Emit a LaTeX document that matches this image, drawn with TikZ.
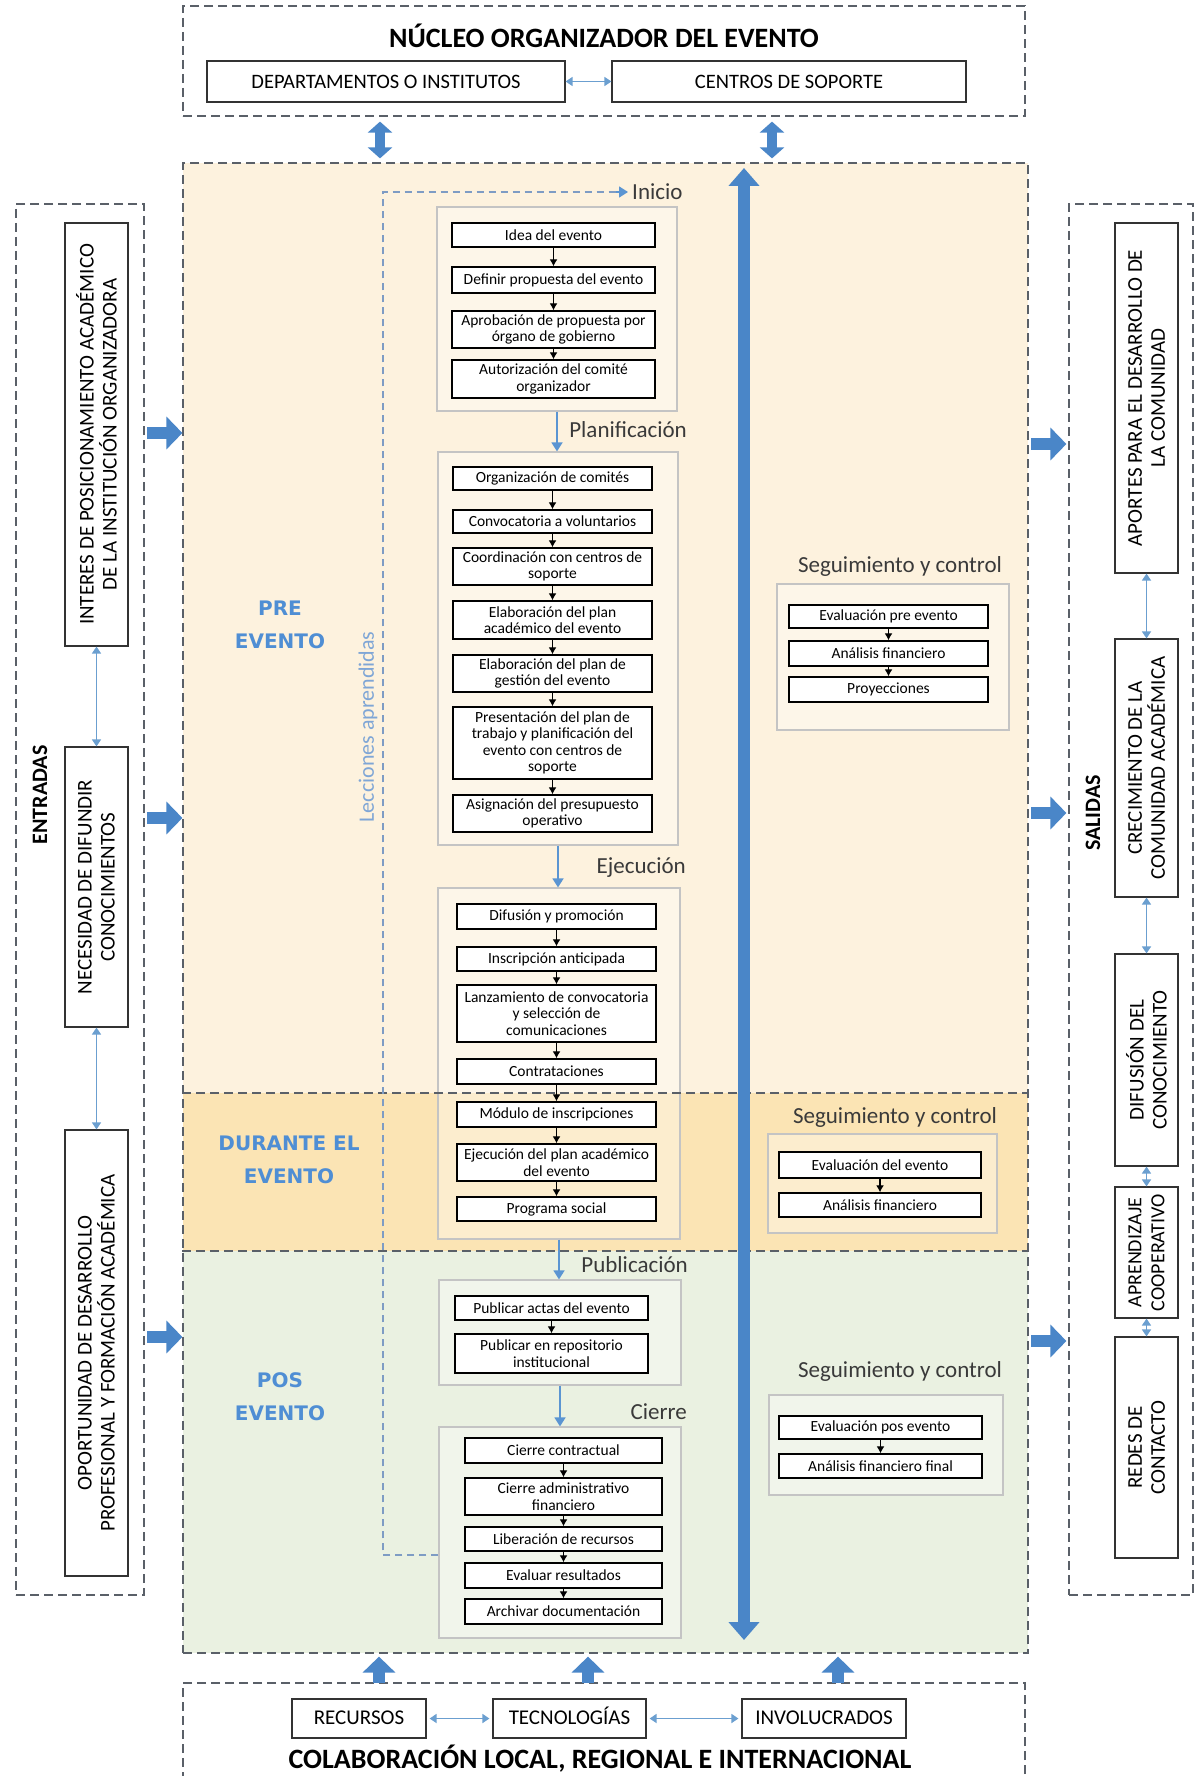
\documentclass[tikz,border=0pt]{standalone}
\usepackage{fontspec}
\setmainfont{Carlito}
\newfontfamily\phasefont{DejaVu Sans}
\usetikzlibrary{arrows.meta,calc,fit}

\definecolor{bgpre}{HTML}{FDF2DE}
\definecolor{bgdur}{HTML}{FBE4B4}
\definecolor{bgpos}{HTML}{EAF1E1}
\definecolor{framegray}{HTML}{5A6068}
\definecolor{groupgray}{HTML}{C4C4C4}
\definecolor{bigblue}{HTML}{4A86C8}
\definecolor{flowblue}{HTML}{5B95D2}
\definecolor{thinblue}{HTML}{6B9FD0}
\definecolor{phaseblue}{HTML}{4F8ED4}
\definecolor{lessonline}{HTML}{7E9CC4}
\definecolor{lessontext}{HTML}{7FA6D6}
\definecolor{labelgray}{HTML}{3A3A3A}

\newcommand\itemfont{\fontsize{15.5}{16.5}\selectfont}
\newcommand\stagefont{\fontsize{23}{27}\selectfont}
\newcommand\sidefont{\fontsize{21}{23}\selectfont}
\newcommand\phasetxt{\phasefont\bfseries\fontsize{20}{33}\selectfont}

% box from its corners: style, name, x1, y1, x2, y2, text
\newcommand\cornerbox[7]{%
  \pgfmathsetmacro\bw{#5-#3}\pgfmathsetmacro\bh{#6-#4}%
  \pgfmathsetmacro\bx{(#3+#5)/2}\pgfmathsetmacro\by{(#4+#6)/2}%
  \node[#1, minimum width=\bw pt, minimum height=\bh pt] (#2) at (\bx,\by) {#7};}

\begin{document}
\begin{tikzpicture}[x=1pt,y=-1pt,
  frame/.style={draw=framegray, line width=1.2pt, dash pattern=on 9pt off 5pt, inner sep=0pt},
  groupbox/.style={draw=groupgray, line width=1.2pt, fill=white, fill opacity=0.35, inner sep=0pt},
  item/.style={draw=black, line width=1.4pt, fill=white, inner sep=0pt, align=center, font=\itemfont},
  plainbox/.style={draw=black!80, line width=1.2pt, fill=white, inner sep=0pt, align=center},
  capsbox/.style={plainbox, font=\fontsize{21}{24}\selectfont, text height=14pt, text depth=2pt},
  stepline/.style={draw=black, line width=1.2pt, -{Latex[length=7pt,width=8pt]}},
  flowline/.style={draw=flowblue, line width=1.6pt, -{Triangle[length=9pt,width=11pt]}},
  thinboth/.style={draw=thinblue, line width=1.6pt, {Triangle[length=7pt,width=9pt]}-{Triangle[length=7pt,width=9pt]}},
  bigarr/.style={draw=bigblue, line width=12pt, -{Triangle[length=16pt,width=32pt]}},
  bigboth/.style={draw=bigblue, line width=10pt, {Triangle[length=11pt,width=24pt]}-{Triangle[length=11pt,width=24pt]}},
  sidebox/.style={draw=black!80, line width=1.2pt, fill=white, rotate=90, align=center, font=\sidefont, inner sep=0pt, minimum height=63pt},
  stagelabel/.style={font=\stagefont, text=labelgray, inner sep=0pt},
  phaselabel/.style={font=\phasetxt, text=phaseblue, align=center, inner sep=0pt},
  lesson/.style={draw=lessonline, line width=1.1pt, dash pattern=on 7pt off 5pt},
]
\useasboundingbox (0,0) rectangle (1197,1776);
\clip (0,0) rectangle (1197,1776);
\fill[white] (0,0) rectangle (1197,1776);

% ---------- phase backgrounds ----------
\fill[bgpre] (183,163) rectangle (1028,1093);
\fill[bgdur] (183,1093) rectangle (1028,1251);
\fill[bgpos] (183,1251) rectangle (1028,1653);

% ---------- outer frames ----------
\node[frame, fit={(183,6)(1025,116)}] (nucleo) {};
\node[frame, fit={(183,163)(1028,1653)}] (main) {};
\node[frame, fit={(16,204)(144,1595)}] (entr) {};
\node[frame, fit={(1069,204)(1193,1595)}] (sal) {};
\node[frame, fit={(183,1683)(1025,1800)}] (colab) {};

% ---------- organising core ----------
\node[font=\bfseries\fontsize{28}{32}\selectfont, inner sep=0pt] (tNuc) at (604,36) {NÚCLEO ORGANIZADOR DEL EVENTO};
\cornerbox{plainbox, font=\fontsize{20.5}{24}\selectfont}{dep}{207}{61}{565}{102}{DEPARTAMENTOS O INSTITUTOS}
\cornerbox{plainbox, font=\fontsize{20.5}{24}\selectfont}{cen}{612}{61}{966}{102}{CENTROS DE SOPORTE}
\draw[thinboth] (dep.east) -- (cen.west);
\draw[bigboth] ($(nucleo.south -| 380,0)+(0,5)$) -- ($(main.north -| 380,0)+(0,-4)$);
\draw[bigboth] ($(nucleo.south -| 772,0)+(0,5)$) -- ($(main.north -| 772,0)+(0,-4)$);

% ---------- group boxes ----------
\node[groupbox, fit={(437,207)(677,411)}] (gIni) {};
\node[groupbox, fit={(438,452)(678,845)}] (gPla) {};
\node[groupbox, fit={(438,888)(680,1239)}] (gEje) {};
\node[groupbox, fit={(439,1280)(681,1385)}] (gPub) {};
\node[groupbox, fit={(439,1427)(681,1638)}] (gCie) {};
\node[groupbox, fit={(777,584)(1009,730)}] (gS1) {};
\node[groupbox, fit={(768,1134)(997,1233)}] (gS2) {};
\node[groupbox, fit={(769,1395)(1003,1495)}] (gS3) {};

% phase separators
\draw[frame] (main.west |- 0,1093) -- (main.east |- 0,1093);
\draw[frame] (main.west |- 0,1251) -- (main.east |- 0,1251);

% ---------- phase names ----------
\node[phaselabel] (pPre) at (280,625) {PRE\\EVENTO};
\node[phaselabel] (pDur) at (289,1160) {DURANTE EL\\EVENTO};
\node[phaselabel] (pPos) at (280,1397) {POS\\EVENTO};

% ---------- stage labels ----------
\node[stagelabel, anchor=west] (lIni) at (632,192) {Inicio};
\node[stagelabel, anchor=east] (lPla) at (687,430) {Planificación};
\node[stagelabel, anchor=east] (lEje) at (686,868) {Ejecución};
\node[stagelabel, anchor=east] (lPub) at (688,1265) {Publicación};
\node[stagelabel, anchor=east] (lCie) at (687,1412) {Cierre};
\node[stagelabel] (lS1) at (900,566) {Seguimiento y control};
\node[stagelabel] (lS2) at (895,1117) {Seguimiento y control};
\node[stagelabel] (lS3) at (900,1371) {Seguimiento y control};

% ---------- lessons learned loop ----------
\coordinate (lecB) at (383,1555);
\coordinate (lecT) at (383,192);
\draw[lesson] (gCie.west |- lecB) -- (lecB) -- (lecT) -- ([xshift=-14pt]lIni.west);
\draw[flowline] ([xshift=-16pt]lIni.west) -- ([xshift=-4pt]lIni.west);
\node[rotate=90, text=lessontext, font=\fontsize{22}{26}\selectfont, inner sep=0pt] (lecTxt) at (368,727) {Lecciones aprendidas};

% ---------- Inicio ----------
\cornerbox{item}{ini1}{452}{223}{655}{247}{Idea del evento}
\cornerbox{item}{ini2}{452}{267}{655}{293}{Definir propuesta del evento}
\cornerbox{item}{ini3}{452}{311}{655}{348}{Aprobación de propuesta por\\órgano de gobierno}
\cornerbox{item}{ini4}{452}{360}{655}{398}{Autorización del comité\\organizador}

% ---------- Planificación ----------
\cornerbox{item}{pl1}{453}{467}{652}{490}{Organización de comités}
\cornerbox{item}{pl2}{453}{510}{652}{533}{Convocatoria a voluntarios}
\cornerbox{item}{pl3}{453}{548}{652}{585}{Coordinación con centros de\\soporte}
\cornerbox{item}{pl4}{453}{601}{652}{639}{Elaboración del plan\\académico del evento}
\cornerbox{item}{pl5}{453}{655}{652}{692}{Elaboración del plan de\\gestión del evento}
\cornerbox{item}{pl6}{453}{707}{652}{779}{Presentación del plan de\\trabajo y planificación del\\evento con centros de\\soporte}
\cornerbox{item}{pl7}{453}{795}{652}{832}{Asignación del presupuesto\\operativo}

% ---------- Ejecución ----------
\cornerbox{item}{ej1}{457}{904}{656}{929}{Difusión y promoción}
\cornerbox{item}{ej2}{457}{947}{656}{971}{Inscripción anticipada}
\cornerbox{item}{ej3}{457}{985}{656}{1042}{Lanzamiento de convocatoria\\y selección de\\comunicaciones}
\cornerbox{item}{ej4}{457}{1059}{656}{1084}{Contrataciones}
\cornerbox{item}{ej5}{457}{1102}{656}{1127}{Módulo de inscripciones}
\cornerbox{item}{ej6}{457}{1144}{656}{1181}{Ejecución del plan académico\\del evento}
\cornerbox{item}{ej7}{457}{1197}{656}{1221}{Programa social}

% ---------- Publicación ----------
\cornerbox{item}{pu1}{455}{1296}{648}{1320}{Publicar actas del evento}
\cornerbox{item}{pu2}{455}{1334}{648}{1373}{Publicar en repositorio\\institucional}

% ---------- Cierre ----------
\cornerbox{item}{ci1}{465}{1438}{662}{1463}{Cierre contractual}
\cornerbox{item}{ci2}{465}{1478}{662}{1515}{Cierre administrativo\\financiero}
\cornerbox{item}{ci3}{465}{1527}{662}{1551}{Liberación de recursos}
\cornerbox{item}{ci4}{465}{1563}{662}{1588}{Evaluar resultados}
\cornerbox{item}{ci5}{465}{1599}{662}{1624}{Archivar documentación}

% ---------- Seguimiento y control ----------
\cornerbox{item}{s1a}{789}{605}{988}{628}{Evaluación pre evento}
\cornerbox{item}{s1b}{789}{641}{988}{666}{Análisis financiero}
\cornerbox{item}{s1c}{789}{677}{988}{702}{Proyecciones}
\cornerbox{item}{s2a}{779}{1152}{981}{1178}{Evaluación del evento}
\cornerbox{item}{s2b}{779}{1193}{981}{1217}{Análisis financiero}
\cornerbox{item}{s3a}{779}{1416}{982}{1439}{Evaluación pos evento}
\cornerbox{item}{s3b}{779}{1454}{982}{1478}{Análisis financiero final}

% step arrows inside the groups
\foreach \a/\b in {ini1/ini2,ini2/ini3,ini3/ini4,
                   pl1/pl2,pl2/pl3,pl3/pl4,pl4/pl5,pl5/pl6,pl6/pl7,
                   ej1/ej2,ej2/ej3,ej3/ej4,ej4/ej5,ej5/ej6,ej6/ej7,
                   pu1/pu2,ci1/ci2,ci2/ci3,ci3/ci4,ci4/ci5,
                   s1a/s1b,s1b/s1c,s2a/s2b,s3a/s3b}
  \draw[stepline] (\a.south) -- (\b.north);

% flow between stages
\draw[flowline] (gIni.south) -- (gIni.south |- gPla.north);
\draw[flowline] (gPla.south) -- (gPla.south |- gEje.north);
\draw[flowline] (gEje.south) -- (gEje.south |- gPub.north);
\draw[flowline] (gPub.south) -- (gPub.south |- gCie.north);

% central control axis
\coordinate (axTop) at (744,168);
\coordinate (axBot) at (744,1640);
\draw[draw=bigblue, line width=12pt, {Triangle[length=18pt,width=30pt]}-{Triangle[length=18pt,width=30pt]}] (axTop) -- (axBot);

% ---------- inputs ----------
\node[font=\bfseries\fontsize{22}{26}\selectfont, rotate=90, inner sep=0pt] (tEnt) at (40,795) {ENTRADAS};
\node[sidebox, minimum width=423pt] (ent1) at (96.5,434.5) {INTERES DE POSICIONAMIENTO ACADÉMICO\\DE LA INSTITUCIÓN ORGANIZADORA};
\node[sidebox, minimum width=280pt] (ent2) at (96.5,887) {NECESIDAD DE DIFUNDIR\\CONOCIMIENTOS};
\node[sidebox, minimum width=446pt] (ent3) at (96.5,1353) {OPORTUNIDAD DE DESARROLLO\\PROFESIONAL Y FORMACIÓN ACADÉMICA};
\draw[thinboth] (ent1.west) -- (ent2.east);
\draw[thinboth] (ent2.west) -- (ent3.east);
\coordinate (in1) at (147,433);
\coordinate (in2) at (147,818);
\coordinate (in3) at (147,1337);
\foreach \c in {in1,in2,in3}
  \draw[bigarr] (\c) -- (main.west |- \c);

% ---------- outputs ----------
\node[font=\bfseries\fontsize{22}{26}\selectfont, rotate=90, inner sep=0pt] (tSal) at (1093,813) {SALIDAS};
\node[sidebox, minimum width=350pt] (sal1) at (1146.5,398) {APORTES PARA EL DESARROLLO DE\\LA COMUNIDAD};
\node[sidebox, minimum width=258pt] (sal2) at (1146.5,768) {CRECIMIENTO DE LA\\COMUNIDAD ACADÉMICA};
\node[sidebox, minimum width=212pt] (sal3) at (1146.5,1060) {DIFUSIÓN DEL\\CONOCIMIENTO};
\node[sidebox, minimum width=131pt, font=\fontsize{20}{23}\selectfont] (sal4) at (1146.5,1252.5) {APRENDIZAJE\\COOPERATIVO};
\node[sidebox, minimum width=221pt] (sal5) at (1146.5,1447.5) {REDES DE\\CONTACTO};
\draw[thinboth] (sal1.west) -- (sal2.east);
\draw[thinboth] (sal2.west) -- (sal3.east);
\draw[thinboth] (sal3.west) -- (sal4.east);
\draw[thinboth] (sal4.west) -- (sal5.east);
\coordinate (out1) at (1031,444);
\coordinate (out2) at (1031,813);
\coordinate (out3) at (1031,1341);
\foreach \c in {out1,out2,out3}
  \draw[bigarr] (\c) -- ([xshift=-2pt]sal.west |- \c);

% ---------- collaboration ----------
\cornerbox{capsbox}{rec}{292}{1699}{426}{1738}{RECURSOS}
\cornerbox{capsbox}{tec}{493}{1699}{646}{1738}{TECNOLOGÍAS}
\cornerbox{capsbox}{inv}{742}{1699}{906}{1738}{INVOLUCRADOS}
\draw[thinboth, shorten <=3pt, shorten >=3pt] (rec.east) -- (tec.west);
\draw[thinboth, shorten <=3pt, shorten >=3pt] (tec.east) -- (inv.west);
\node[font=\bfseries\fontsize{28}{32}\selectfont, inner sep=0pt] (tCol) at (600,1759) {COLABORACIÓN LOCAL, REGIONAL E INTERNACIONAL};
\foreach \x in {379,588,838}
  \draw[bigarr] ($(colab.north -| \x,0)+(0,1)$) -- ($(main.south -| \x,0)+(0,3)$);
\end{tikzpicture}
\end{document}
